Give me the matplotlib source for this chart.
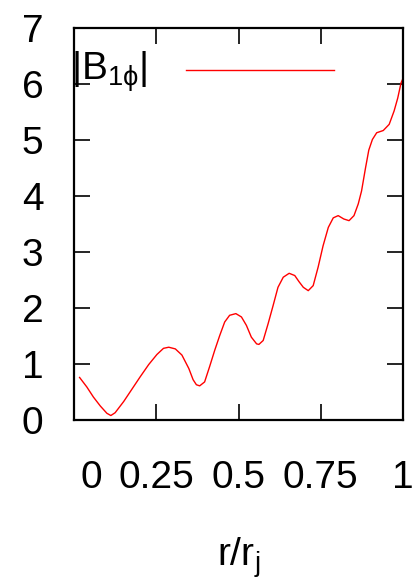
import matplotlib
matplotlib.use("Agg")
import matplotlib.pyplot as plt
import matplotlib.transforms as mtransforms

# |B_1phi| profile (r / r_j , value)
r = [0.017, 0.039, 0.059, 0.080, 0.100, 0.112, 0.125, 0.151, 0.176, 0.201,
     0.227, 0.252, 0.272, 0.288, 0.308, 0.328, 0.349, 0.362, 0.372, 0.382,
     0.397, 0.412, 0.428, 0.443, 0.458, 0.473, 0.492, 0.509, 0.524, 0.539,
     0.555, 0.562, 0.575, 0.590, 0.605, 0.620, 0.636, 0.654, 0.671, 0.684,
     0.697, 0.712, 0.727, 0.742, 0.757, 0.773, 0.788, 0.803, 0.820, 0.836,
     0.851, 0.864, 0.874, 0.886, 0.896, 0.907, 0.920, 0.940, 0.958, 0.973,
     0.984, 0.994, 1.000]
b1phi = [0.76, 0.59, 0.41, 0.25, 0.12, 0.08, 0.13, 0.33, 0.55, 0.77,
         0.99, 1.17, 1.28, 1.30, 1.27, 1.16, 0.92, 0.72, 0.63, 0.61,
         0.68, 0.95, 1.25, 1.51, 1.75, 1.87, 1.90, 1.84, 1.69, 1.48,
         1.36, 1.35, 1.42, 1.72, 2.04, 2.37, 2.55, 2.62, 2.58, 2.47,
         2.37, 2.31, 2.40, 2.73, 3.11, 3.44, 3.61, 3.65, 3.59, 3.56,
         3.65, 3.86, 4.09, 4.50, 4.82, 5.01, 5.13, 5.17, 5.28, 5.52,
         5.75, 6.02, 6.10]

xticks = [0, 0.25, 0.5, 0.75, 1]
xticklabels = ["0", "0.25", "0.5", "0.75", "1"]
yticks = [0, 1, 2, 3, 4, 5, 6, 7]

plt.rcParams["font.family"] = ["Liberation Sans", "DejaVu Sans"]
plt.rcParams["mathtext.default"] = "regular"
plt.rcParams["font.size"] = 28

fig = plt.figure(figsize=(4.15, 5.84), dpi=100)
ax = fig.add_axes([0.1783, 0.2808, 0.7928, 0.6712])

ax.plot(r, b1phi, color="#ff0000", linewidth=1.0, solid_joinstyle="round",
        label=r"|B$_{1\phi}$|")

ax.set_xlim(0, 1)
ax.set_ylim(0, 7)
ax.set_xticks(xticks)
ax.set_xticklabels(xticklabels)
ax.set_yticks(yticks)

ax.tick_params(direction="in", length=11.5, width=1.2, top=True, right=True,
               labelsize=28)
ax.tick_params(axis="x", pad=29)
ax.tick_params(axis="y", pad=22)
for sp in ax.spines.values():
    sp.set_linewidth(1.6)

# gnuplot pushed the "0" label a bit to the right
lbl0 = ax.get_xticklabels()[0]
lbl0.set_transform(lbl0.get_transform() +
                   mtransforms.ScaledTranslation(0.17, 0, fig.dpi_scale_trans))

ax.set_xlabel("r/r$_j$", fontsize=28, labelpad=28)

ax.legend(loc="upper left", bbox_to_anchor=(-0.01, 0.945), frameon=False,
          markerfirst=False, handlelength=3.8, handletextpad=1.0,
          handleheight=0.05, borderpad=0, borderaxespad=0, fontsize=28)

fig.savefig("out.png", dpi=100)
